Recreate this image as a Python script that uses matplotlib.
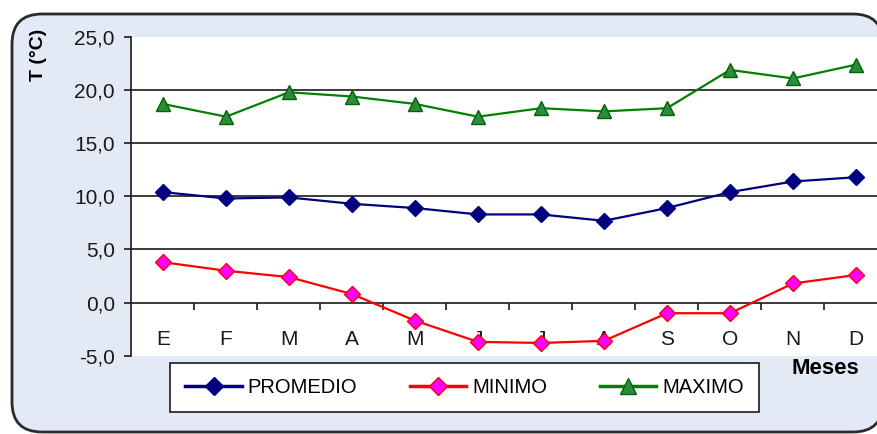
import numpy as np
import matplotlib.pyplot as plt
from matplotlib.patches import FancyBboxPatch

plt.rcParams['font.family'] = ['Liberation Sans', 'DejaVu Sans']

# Monthly temperatures (°C)
meses = ["E", "F", "M", "A", "M", "J", "J", "A", "S", "O", "N", "D"]
promedio = [10.4, 9.8, 9.9, 9.3, 8.9, 8.3, 8.3, 7.7, 8.9, 10.4, 11.4, 11.8]
minimo = [3.8, 3.0, 2.4, 0.8, -1.7, -3.7, -3.8, -3.6, -1.0, -1.0, 1.8, 2.6]
maximo = [18.7, 17.5, 19.8, 19.4, 18.7, 17.5, 18.3, 18.0, 18.3, 21.9, 21.1, 22.4]
yticks = [-5, 0, 5, 10, 15, 20, 25]

fig = plt.figure(figsize=(8.78, 4.34), dpi=100)
fig.patch.set_facecolor("white")

# rounded chart frame, kept behind the axes
frame = FancyBboxPatch((0.12, 0.02), 8.71, 4.18,
                       boxstyle="round,pad=0,rounding_size=0.3",
                       transform=fig.dpi_scale_trans,
                       facecolor="#e3eaf6", edgecolor="#2b2b2b", lw=2,
                       zorder=-5)
fig.patches.append(frame)

ax = fig.add_axes([131.5 / 878, 0.1804, 756 / 878, 0.7343])
ax.set_facecolor("white")
x = np.arange(len(meses))

for g in [5, 10, 15, 20]:
    ax.axhline(g, color="#1a1a1a", lw=1.2, zorder=1)
ax.axhline(0, color="#1a1a1a", lw=1.2, zorder=1)
ax.vlines(x[:-1] + 0.5, -0.7, 0, color="#1a1a1a", lw=1.2, zorder=1)

l1, = ax.plot(x, promedio, color="#000080", lw=1.6, marker="D", ms=8,
              mfc="#000080", mec="#000080", zorder=3, label="PROMEDIO")
l2, = ax.plot(x, minimo, color="#ff0000", lw=1.6, marker="D", ms=8,
              mfc="#ff00ff", mec="#ff0000", zorder=3, label="MINIMO")
l3, = ax.plot(x, maximo, color="#008000", lw=1.6, marker="^", ms=10,
              mfc="#2e8b3e", mec="#006400", zorder=3, label="MAXIMO")

for i, m in enumerate(meses):
    ax.text(i, -3.45, m, ha="center", va="center", fontsize=15, color="#1a1a1a",
            zorder=2)

ax.set_xlim(-0.5, 11.5)
ax.set_ylim(-5, 25)
ax.set_xticks([])
ax.set_yticks(yticks)
ax.set_yticklabels([f"{v:.1f}".replace(".", ",") for v in yticks],
                   fontsize=15, color="#1a1a1a")
ax.tick_params(axis="y", direction="out", length=5, width=1.2, pad=7,
               color="#1a1a1a")
for s in ["top", "right", "bottom"]:
    ax.spines[s].set_visible(False)
ax.spines["left"].set_color("#1a1a1a")
ax.spines["left"].set_linewidth(1.2)

fig.text(39 / 878, 1 - 55 / 434, "T (°C)", rotation=90, ha="center", va="center",
         fontsize=14, fontweight="bold")
fig.text(825 / 878, 1 - 368 / 434, "Meses", ha="center", va="center",
         fontsize=16, fontweight="bold")

leg = fig.legend(handles=[l1, l2, l3], ncol=3, loc="center",
                 bbox_to_anchor=((169 + 760) / 2 / 878, 1 - 387.5 / 434),
                 fontsize=14.5, handlelength=2.8, columnspacing=2.6,
                 borderpad=0.75, fancybox=False, framealpha=1,
                 edgecolor="#1a1a1a", handletextpad=0.3, markerscale=1.15)
leg.get_frame().set_linewidth(1.2)
for h in leg.get_lines():
    h.set_linewidth(2.5)

fig.savefig("out.png", dpi=100, facecolor=fig.get_facecolor())
